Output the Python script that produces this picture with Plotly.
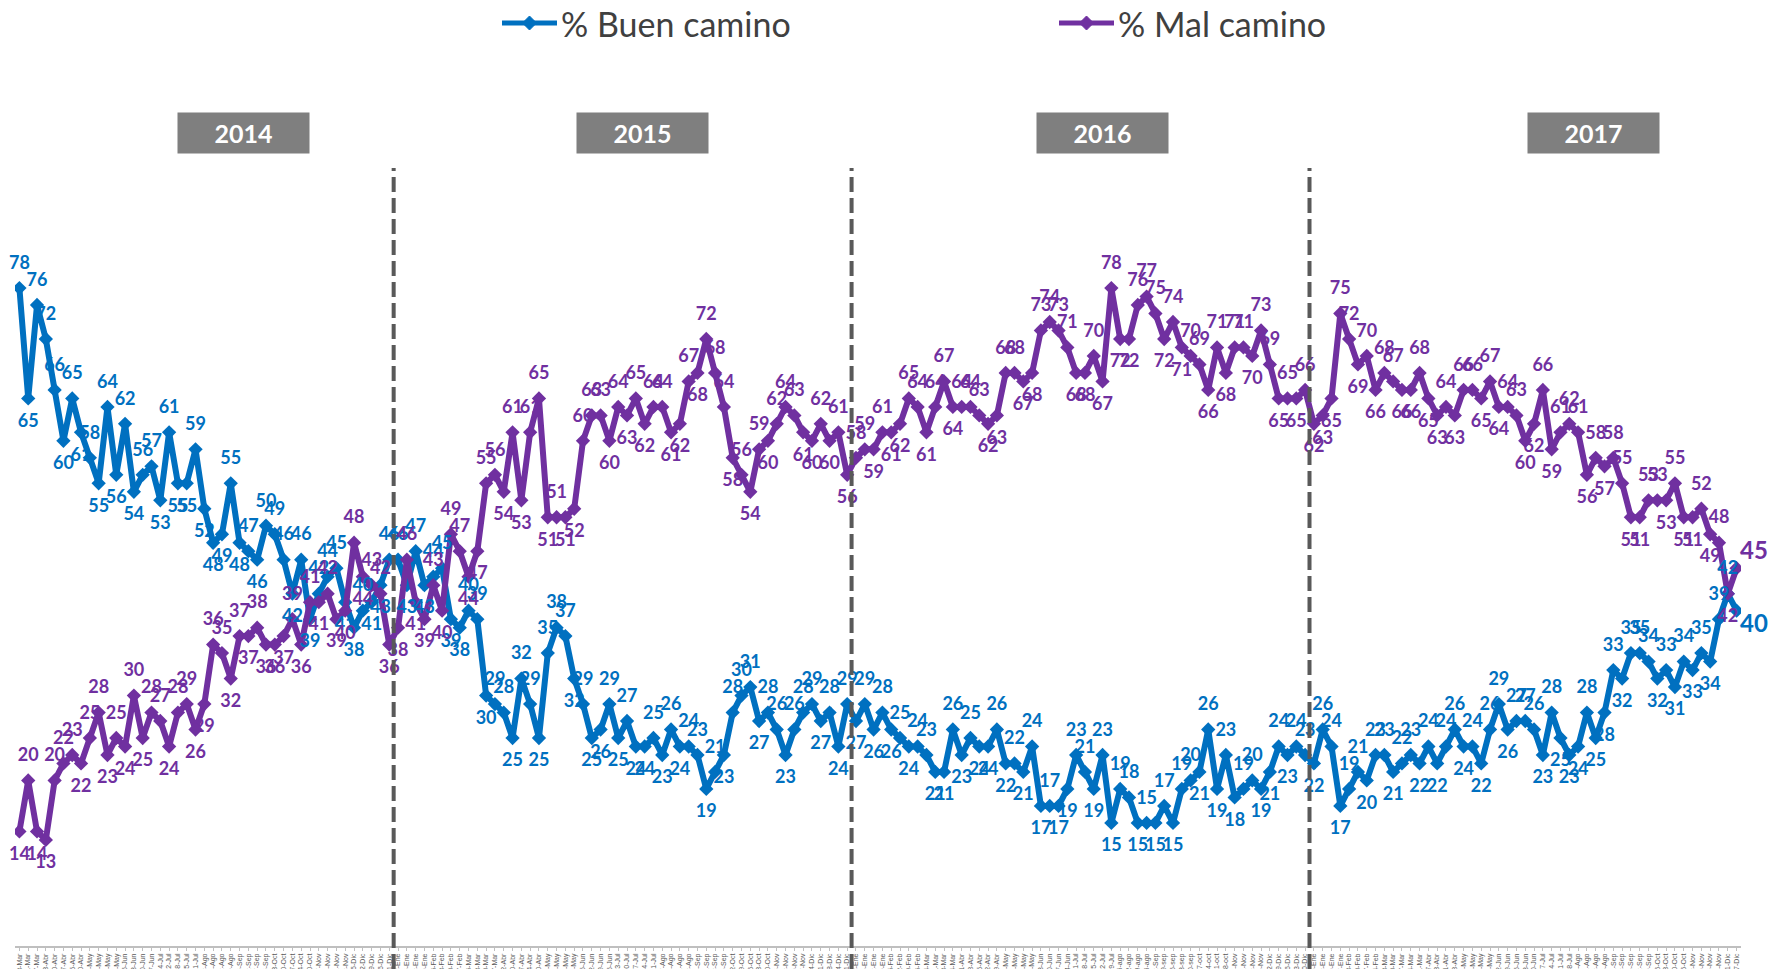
import plotly.graph_objects as go

# fechas semanales del eje X
fechas_2014 = ("13-Mar 21-Mar 27-Mar 03-Abr 10-Abr 17-Abr 25-Abr 30-Abr 09-May 16-May 24-May 30-May "
               "06-Jun 13-Jun 20-Jun 27-Jun 04-Jul 12-Jul 18-Jul 25-Jul 31-Jul 08-Ago 14-Ago 22-Ago 29-Ago "
               "06-Sep 12-Sep 17-Sep 26-Sep 03-Oct 10-Oct 17-Oct 24-Oct 30-Oct 07-Nov 14-Nov 21-Nov 28-Nov "
               "05-Dic 12-Dic 19-Dic 26-Dic 31-Dic").split()
fechas_2015 = ("08-Ene 16-Ene 23-Ene 30-Ene 06-Feb 13-Feb 20-Feb 27-Feb 06-Mar 13-Mar 20-Mar 27-Mar "
               "02-Abr 10-Abr 17-Abr 24-Abr 30-Abr 08-May 15-May 22-May 29-May 05-Jun 12-Jun 19-Jun 26-Jun "
               "03-Jul 10-Jul 17-Jul 24-Jul 31-Jul 07-Ago 14-Ago 21-Ago 28-Ago 04-Sep 11-Sep 18-Sep 25-Sep "
               "02-Oct 09-Oct 16-Oct 23-Oct 30-Oct 06-Nov 13-Nov 20-Nov 27-Nov 04-Dic 11-Dic 18-Dic 24-Dic "
               "31-Dic").split()
fechas_2016 = ("08-Ene 15-Ene 22-Ene 29-Ene 05-Feb 12-Feb 19-Feb 26-Feb 04-Mar 11-Mar 18-Mar 24-Mar "
               "01-Abr 08-Abr 15-Abr 22-Abr 29-Abr 06-May 13-May 20-May 27-May 03-Jun 10-Jun 17-Jun 24-Jun "
               "01-Jul 08-Jul 15-Jul 22-Jul 29-Jul 05-ago 12-ago 19-ago 26-ago 02-Sep 09-sep 16-sep 23-sep "
               "30-sep 07-oct 14-oct 21-oct 28-oct 04-Nov 11-Nov 18-Nov 25-Nov 02-Dic 09-Dic 16-Dic 23-Dic "
               "30-Dic").split()
fechas_2017 = ("06-Ene 13-Ene 20-Ene 27-Ene 03-Feb 10-Feb 17-Feb 24-Feb 03-Mar 10-Mar 17-Mar 24-Mar "
               "31-Mar 07-Abr 13-Abr 21-Abr 28-Abr 05-May 12-May 19-May 26-May 02-Jun 09-Jun 16-Jun 23-Jun "
               "30-Jun 07-Jul 14-Jul 21-Jul 28-Jul 04-Ago 11-Ago 18-Ago 25-Ago 01-Sep 08-Sep 15-Sep 22-Sep "
               "29-Sep 06-Oct 13-Oct 20-Oct 26-Oct 03-Nov 10-Nov 16-Nov 24-Nov 01-Dic 07-Dic").split()

# % Buen camino
buen_2014 = [78, 65, 76, 72, 66, 60, 65, 61, 58, 55, 64, 56, 62, 54, 56, 57, 53, 61, 55, 55,
             59, 52, 48, 49, 55, 48, 47, 46, 50, 49, 46, 42, 46, 39, 42, 44, 45, 41, 38, 40,
             41, 43, 46]
buen_2015 = [46, 43, 47, 43, 44, 45, 39, 38, 40, 39, 30, 29, 28, 25, 32, 29, 25, 35, 38, 37,
             32, 29, 25, 26, 29, 25, 27, 24, 24, 25, 23, 26, 24, 24, 23, 19, 21, 23, 28, 30,
             31, 27, 28, 26, 23, 26, 28, 29, 27, 28, 24, 29]
buen_2016 = [27, 29, 26, 28, 26, 25, 24, 24, 23, 21, 21, 26, 23, 25, 24, 24, 26, 22, 22, 21,
             24, 17, 17, 17, 19, 23, 21, 19, 23, 15, 19, 18, 15, 15, 15, 17, 15, 19, 20, 21,
             26, 19, 23, 18, 19, 20, 19, 21, 24, 23, 24, 23]
buen_2017 = [22, 26, 24, 17, 19, 21, 20, 23, 23, 21, 22, 23, 22, 24, 22, 24, 26, 24, 24, 22,
             26, 29, 26, 27, 27, 26, 23, 28, 25, 23, 24, 28, 25, 28, 33, 32, 35, 35, 34, 32,
             33, 31, 34, 33, 35, 34, 39, 42, 40]

# % Mal camino
mal_2014 = [14, 20, 14, 13, 20, 22, 23, 22, 25, 28, 23, 25, 24, 30, 25, 28, 27, 24, 28, 29,
            26, 29, 36, 35, 32, 37, 37, 38, 36, 36, 37, 39, 36, 41, 41, 42, 39, 40, 48, 44,
            43, 42, 36]
mal_2015 = [38, 46, 41, 39, 43, 40, 49, 47, 44, 47, 55, 56, 54, 61, 53, 61, 65, 51, 51, 51,
            52, 60, 63, 63, 60, 64, 63, 65, 62, 64, 64, 61, 62, 67, 68, 72, 68, 64, 58, 56,
            54, 59, 60, 62, 64, 63, 61, 60, 62, 60, 61, 56]
mal_2016 = [58, 59, 59, 61, 61, 62, 65, 64, 61, 64, 67, 64, 64, 64, 63, 62, 63, 68, 68, 67,
            68, 73, 74, 73, 71, 68, 68, 70, 67, 78, 72, 72, 76, 77, 75, 72, 74, 71, 70, 69,
            66, 71, 68, 71, 71, 70, 73, 69, 65, 65, 65, 66]
mal_2017 = [62, 63, 65, 75, 72, 69, 70, 66, 68, 67, 66, 66, 68, 65, 63, 64, 63, 66, 66, 65,
            67, 64, 64, 63, 60, 62, 66, 59, 61, 62, 61, 56, 58, 57, 58, 55, 51, 51, 53, 53,
            53, 55, 51, 51, 52, 49, 48, 42, 45]

anios = ["2014", "2015", "2016", "2017"]
series = ["% Buen camino", "% Mal camino"]

fechas = fechas_2014 + fechas_2015 + fechas_2016 + fechas_2017
buen = buen_2014 + buen_2015 + buen_2016 + buen_2017
mal = mal_2014 + mal_2015 + mal_2016 + mal_2017
x = list(range(len(fechas)))

AZUL = "#0070C0"
MORADO = "#7030A0"
FUENTE = "Lato"

# area de trazado en pixeles de la pagina (para ubicar cajas y leyenda)
PL, PW, PB, PH = 15, 1726, 946, 886


def px_x(p):
    return (p - PL) / PW


def px_y(p):
    return (PB - p) / PH


def posiciones(vals, ultimo):
    # etiqueta arriba en los picos, abajo en los valles
    pos = []
    for i, v in enumerate(vals):
        prev = vals[i - 1] if i > 0 else v
        nxt = vals[i + 1] if i < len(vals) - 1 else v
        pos.append("top center" if v >= (prev + nxt) / 2 else "bottom center")
    pos[-1] = ultimo
    return pos


def ultimo_distinto(n, normal, final):
    t = [normal] * n
    t[-1] = final
    return t


fig = go.Figure()

for nombre, vals, color in [(series[0], buen, AZUL), (series[1], mal, MORADO)]:
    fig.add_trace(go.Scatter(
        x=x, y=vals, name=nombre, mode="lines+markers", showlegend=False,
        line=dict(color=color, width=6),
        marker=dict(symbol="diamond", size=11, color=color),
    ))

# etiquetas de datos (marcador invisible para separar el texto de la linea)
for vals, color, ultimo in [(buen, AZUL, "bottom right"), (mal, MORADO, "top right")]:
    fig.add_trace(go.Scatter(
        x=x, y=vals, mode="markers+text", showlegend=False,
        marker=dict(size=ultimo_distinto(len(vals), 22, 4), opacity=0),
        text=[str(v) for v in vals],
        textposition=posiciones(vals, ultimo),
        textfont=dict(family=FUENTE, size=ultimo_distinto(len(vals), 18, 24), color=color, weight="bold"),
        cliponaxis=False, hoverinfo="skip",
    ))

# lineas punteadas entre años
corte = 0
for grupo in [fechas_2014, fechas_2015, fechas_2016]:
    corte += len(grupo)
    fig.add_shape(type="line", xref="x", yref="paper", x0=corte - 0.5, x1=corte - 0.5,
                  y0=px_y(969), y1=px_y(168), line=dict(color="#595959", width=4, dash="15px,6px"))

# cajas con el año
for anio, cx in zip(anios, [243.6, 642.4, 1102.4, 1593]):
    fig.add_annotation(
        x=px_x(cx), y=px_y(133), xref="paper", yref="paper", xanchor="center", yanchor="middle",
        text=f"<b>{anio}</b>", showarrow=False, bgcolor="#7F7F7F",
        width=129, height=38, borderpad=1,
        font=dict(family=FUENTE, size=25, color="white"),
    )

# leyenda superior
for nombre, color, lx in [(series[0], AZUL, 502), (series[1], MORADO, 1059)]:
    fig.add_shape(type="line", xref="paper", yref="paper",
                  x0=px_x(lx), x1=px_x(lx + 55), y0=px_y(23), y1=px_y(23),
                  line=dict(color=color, width=5))
    fig.add_shape(type="path", xref="paper", yref="paper",
                  xsizemode="pixel", ysizemode="pixel",
                  xanchor=px_x(lx + 27.5), yanchor=px_y(23),
                  path="M0,7 L7,0 L0,-7 L-7,0 Z", fillcolor=color, line=dict(color=color, width=1))
    fig.add_annotation(
        x=px_x(lx + 57), y=px_y(23), xref="paper", yref="paper", xanchor="left", yanchor="middle",
        text=nombre, showarrow=False, font=dict(family=FUENTE, size=34, color="#404040"),
    )

fig.update_layout(
    width=1769, height=961, autosize=False,
    margin=dict(l=7, r=36, t=52, b=23),
    paper_bgcolor="white", plot_bgcolor="white",
    showlegend=False,
    xaxis=dict(
        range=[-0.5, len(x) - 0.5], tickvals=x, ticktext=fechas, tickangle=-90,
        tickfont=dict(family="Liberation Sans", size=7, color="#595959"),
        showline=True, linecolor="#BFBFBF", linewidth=1.5,
        ticks="outside", ticklen=3, tickcolor="#BFBFBF",
        showgrid=False, zeroline=False, automargin=False, fixedrange=True,
    ),
    yaxis=dict(visible=False, range=[0.5, 104.86], showgrid=False, zeroline=False, fixedrange=True),
)

fig.write_html("out.html")
